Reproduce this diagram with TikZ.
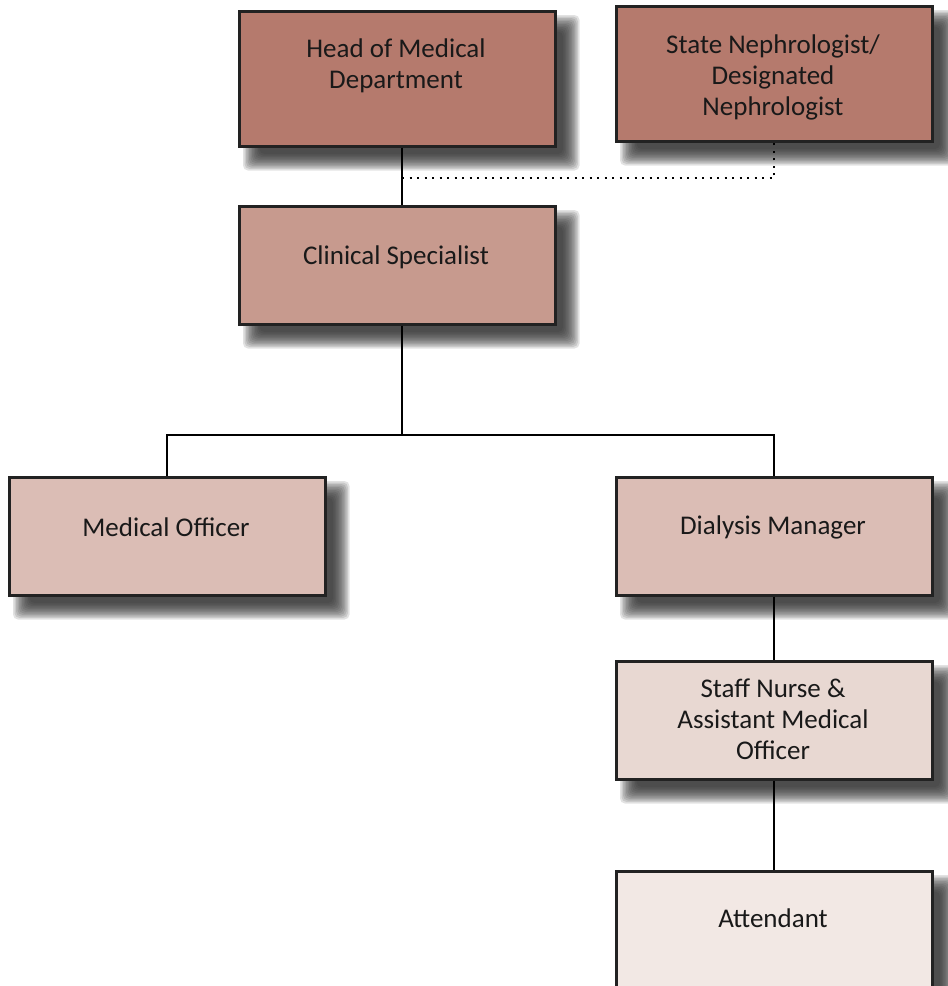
\documentclass[tikz,border=0pt]{standalone}
\usepackage{fontspec}
\setmainfont{Carlito}
\usetikzlibrary{calc}
\pgfdeclarelayer{bg}
\pgfsetlayers{bg,main}
\definecolor{cA}{HTML}{B57A6D}
\definecolor{cB}{HTML}{C79A8E}
\definecolor{cC}{HTML}{DBBDB5}
\definecolor{cD}{HTML}{E8D8D2}
\definecolor{cE}{HTML}{F2E8E4}
\definecolor{edge}{HTML}{222222}
\tikzset{
  box/.style={draw=edge, line width=2.5pt, rectangle, anchor=north west,
    minimum width=316pt, inner sep=0pt},
  lbl/.style={align=center, font=\fontsize{27}{31}\selectfont, text=black!90},
  conn/.style={line width=2pt, draw=black},
  dotconn/.style={line width=2pt, draw=black, dash pattern=on 2pt off 5.5pt},
  shadowlayer/.style={fill=black!85, fill opacity=0.13, rounded corners=5pt}
}
\newcommand{\softshadow}[1]{%
  \foreach \k in {0,...,11}{%
    \pgfmathsetmacro{\e}{9-\k*1.5}%
    \fill[shadowlayer] ($(#1.north west)+(14-\e,14-\e)$) rectangle ($(#1.south east)+(14+\e,14+\e)$);
  }}
\begin{document}
\begin{tikzpicture}[x=1pt,y=-1pt]
\useasboundingbox (0,0) rectangle (948,986);
% boxes
\node[box, fill=cA, minimum height=135pt] (head) at (238,10) {};
\node[box, fill=cA, minimum height=135pt] (state) at (615,5) {};
\node[box, fill=cB, minimum height=118pt] (clin) at (238,205) {};
\node[box, fill=cC, minimum height=118pt] (mo) at (8,476) {};
\node[box, fill=cC, minimum height=118pt] (dm) at (615,476) {};
\node[box, fill=cD, minimum height=118pt] (sn) at (615,660) {};
\node[box, fill=cE, minimum height=135pt] (att) at (615,870) {};
\begin{pgfonlayer}{bg}
\fill[white] (0,0) rectangle (948,986);
\softshadow{head}
\softshadow{state}
\softshadow{clin}
\softshadow{mo}
\softshadow{dm}
\softshadow{sn}
\softshadow{att}
\end{pgfonlayer}
% labels
\node[lbl] (headt) at (396,66) {Head of Medical\\Department};
\node[lbl] (statet) at (773,77) {State Nephrologist/\\Designated\\Nephrologist};
\node[lbl] (clint) at (396,257) {Clinical Specialist};
\node[lbl] (mot) at (166,527) {Medical Officer};
\node[lbl] (dmt) at (773,527) {Dialysis Manager};
\node[lbl] (snt) at (773,719) {Staff Nurse \&\\Assistant Medical\\Officer};
\node[lbl] (attt) at (773,918) {Attendant};
% connectors
\coordinate (dj) at (402,178);
\coordinate (bus) at (402,435);
\draw[conn] (head.south -| dj) -- (clin.north -| dj);
\draw[dotconn] (dj) -| (state.south);
\draw[conn] (clin.south -| bus) -- (bus);
\draw[conn] (bus) -| (mo.north);
\draw[conn] (bus) -| (dm.north);
\draw[conn] (dm.south) -- (sn.north);
\draw[conn] (sn.south) -- (att.north);
\end{tikzpicture}
\end{document}
